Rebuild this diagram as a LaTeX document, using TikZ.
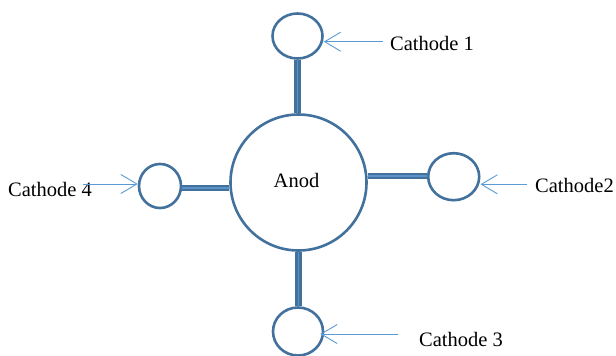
\documentclass[tikz,border=0pt]{standalone}
\usepackage{fontspec}
\setmainfont{Liberation Serif}
\usetikzlibrary{shapes.geometric,arrows.meta}
\definecolor{ringblue}{HTML}{41719C}
\definecolor{arrblue}{HTML}{5B9BD5}
\definecolor{stemmid}{HTML}{5B93C8}
\begin{document}
\begin{tikzpicture}[x=1pt,y=-1pt,
  ring/.style={draw=ringblue,line width=2.6pt,ellipse,inner sep=0pt,fill=white},
  stem/.style={draw=ringblue,line width=2.4pt,double=stemmid,double distance=1.6pt},
  pointer/.style={draw=arrblue,line width=0.9pt,-{Straight Barb[length=16pt,width=19pt,line width=0.9pt]}},
  lbl/.style={inner sep=0pt,anchor=base west,font=\fontsize{20.5}{24}\selectfont}]
\useasboundingbox (0,0) rectangle (616,356);
% nodes
\node[ring,minimum width=136pt,minimum height=136pt] (anod) at (298.5,182.5) {};
\node[lbl,anchor=base] (anodtxt) at (296.5,187.3) {Anod};
\node[ring,minimum width=50pt,minimum height=45pt] (c1) at (297.5,36) {};
\node[ring,minimum width=51pt,minimum height=47pt] (c2) at (453.7,176.7) {};
\node[ring,minimum width=50pt,minimum height=48pt] (c3) at (298,331.5) {};
\node[ring,minimum width=42pt,minimum height=44pt] (c4) at (160,186) {};
% stems
\draw[stem] (c1.south) -- (c1.south |- anod.north);
\draw[stem] (anod.south) -- (anod.south |- c3.north);
\draw[stem] ([yshift=1pt]c2.west) -- ([yshift=1pt]c2.west -| anod.east);
\draw[stem] ([yshift=-1.7pt]c4.east) -- ([yshift=-1.7pt]c4.east -| anod.west);
% labels
\node[lbl] (t1) at (390,50) {Cathode 1};
\node[lbl] (t2) at (535,192.7) {Cathode2};
\node[lbl] (t3) at (419,346.7) {Cathode 3};
\node[lbl] (t4) at (8,196.7) {Cathode 4};
% pointer arrows
\coordinate (a1) at (383,41.7);
\coordinate (a2) at (526.7,184.3);
\coordinate (a3) at (398,334);
\coordinate (a4) at (83,184);
\draw[pointer] (a1) -- (a1 -| c1.east);
\draw[pointer] (a2) -- (a2 -| c2.east);
\draw[pointer] (a3) -- ([xshift=-4pt]a3 -| c3.east);
\draw[pointer] (a4) -- (a4 -| c4.west);
\end{tikzpicture}
\end{document}
